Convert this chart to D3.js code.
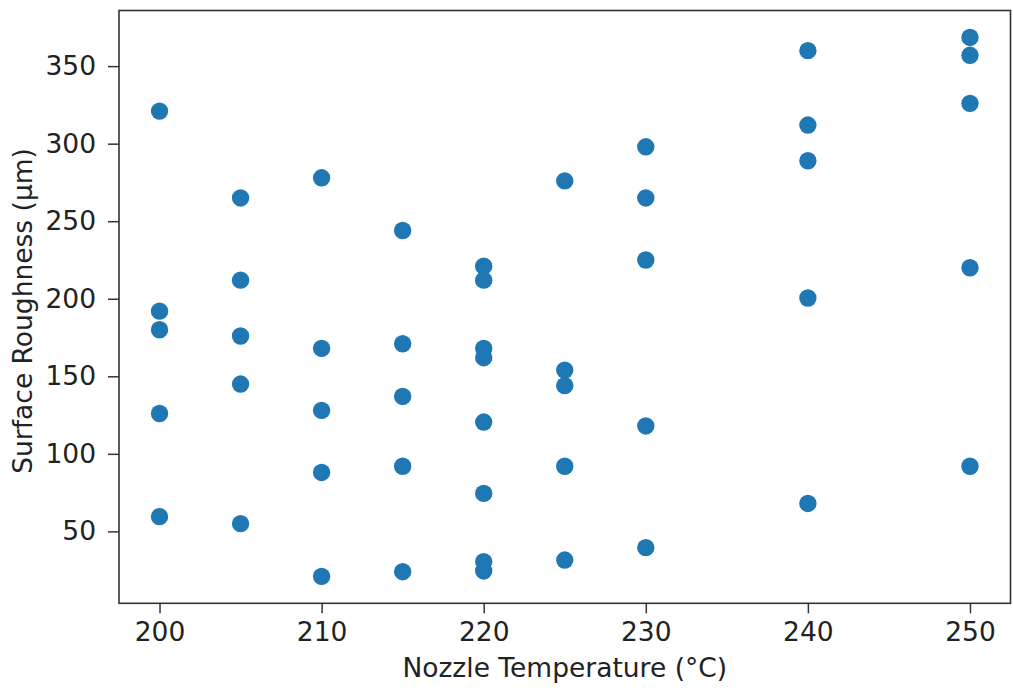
<!DOCTYPE html>
<html>
<head>
<meta charset="utf-8">
<script src="https://cdn.jsdelivr.net/npm/d3@7"></script>
<style>
  html, body { margin: 0; padding: 0; background: #fff; }
  svg { display: block; }
  text { font-family: "DejaVu Sans", sans-serif; fill: #222; }
</style>
</head>
<body>
<svg id="chart" width="1013" height="691"></svg>
<script>
// Data
const temperatures = [
  200, 200, 200, 200, 200,
  205, 205, 205, 205, 205,
  210, 210, 210, 210, 210,
  215, 215, 215, 215, 215,
  220, 220, 220, 220, 220, 220, 220, 220,
  225, 225, 225, 225, 225,
  230, 230, 230, 230, 230,
  240, 240, 240, 240, 240,
  250, 250, 250, 250, 250
];
const roughness = [
  321, 192, 180, 126, 59.5,
  265, 212, 176, 145, 55,
  278, 168, 128, 88, 21,
  244, 171, 137, 92, 24,
  221, 212, 168, 162, 120.5, 74.5, 30.5, 24.5,
  276, 154, 144, 92, 31.5,
  298, 265, 225, 118, 39.5,
  360, 312, 289, 200.5, 68,
  368.5, 357, 326, 220, 92
];
const xTicks = [200, 210, 220, 230, 240, 250];
const yTicks = [50, 100, 150, 200, 250, 300, 350];
const xLabel = "Nozzle Temperature (°C)";
const yLabel = "Surface Roughness (µm)";

const svg = d3.select("#chart");
const plot = { left: 119, top: 10.5, right: 1010.5, bottom: 603.3 };

// matplotlib-like 5% margins
const xExt = d3.extent(temperatures), yExt = d3.extent(roughness);
const xPad = (xExt[1] - xExt[0]) * 0.05, yPad = (yExt[1] - yExt[0]) * 0.05;
const x = d3.scaleLinear().domain([xExt[0] - xPad, xExt[1] + xPad]).range([plot.left, plot.right]);
const y = d3.scaleLinear().domain([yExt[0] - yPad, yExt[1] + yPad]).range([plot.bottom, plot.top]);

const fontSize = 26.5;

// points
svg.append("g").selectAll("circle")
  .data(temperatures.map((t, i) => ({ t, r: roughness[i] })))
  .join("circle")
  .attr("cx", d => x(d.t))
  .attr("cy", d => y(d.r))
  .attr("r", 8.7)
  .attr("fill", "#1f77b4");

// axes
const xAxis = svg.append("g")
  .attr("transform", `translate(0,${plot.bottom})`)
  .call(d3.axisBottom(x).tickValues(xTicks).tickSize(10).tickPadding(9).tickSizeOuter(0));
const yAxis = svg.append("g")
  .attr("transform", `translate(${plot.left},0)`)
  .call(d3.axisLeft(y).tickValues(yTicks).tickSize(11).tickPadding(12).tickSizeOuter(0));

[xAxis, yAxis].forEach(g => {
  g.select(".domain").remove();
  g.selectAll(".tick line").attr("stroke", "#333").attr("stroke-width", 1.5);
  g.selectAll(".tick text")
    .attr("fill", "#222")
    .style("font-family", '"DejaVu Sans", sans-serif')
    .style("font-size", fontSize + "px");
});

// frame
svg.append("rect")
  .attr("x", plot.left).attr("y", plot.top)
  .attr("width", plot.right - plot.left).attr("height", plot.bottom - plot.top)
  .attr("fill", "none").attr("stroke", "#333").attr("stroke-width", 1.6);

// axis labels
svg.append("text")
  .attr("x", (plot.left + plot.right) / 2)
  .attr("y", 677)
  .attr("text-anchor", "middle")
  .style("font-size", fontSize + "px")
  .text(xLabel);

svg.append("text")
  .attr("transform", `translate(32,${(plot.top + plot.bottom) / 2 + 4}) rotate(-90)`)
  .attr("text-anchor", "middle")
  .style("font-size", fontSize + "px")
  .text(yLabel);
</script>
</body>
</html>
